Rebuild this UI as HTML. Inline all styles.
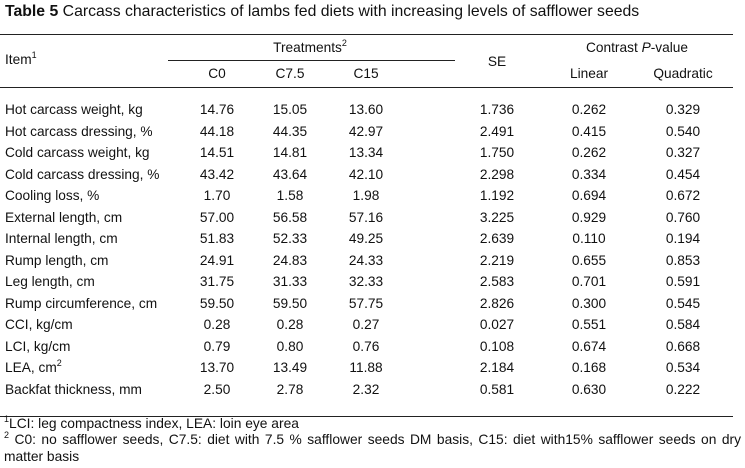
<!DOCTYPE html>
<html><head><meta charset="utf-8"><style>
body{margin:0;width:745px;height:468px;background:#fff;font-family:"Liberation Sans",Arial,sans-serif;color:#111;position:relative;overflow:hidden}
div{position:absolute;white-space:nowrap}
.t{font-size:13.7px;line-height:16px}
.c{transform:translateX(-50%)}
.rule{height:1px;background:#222;left:0;width:733px}
sup{font-size:9px;vertical-align:6px;line-height:0}
</style></head><body>
<div style="left:5px;top:3px;font-size:15.8px;line-height:18px"><b>Table 5</b> Carcass characteristics of lambs fed diets with increasing levels of safflower seeds</div>
<div class="rule" style="top:34px"></div>
<div class="t" style="left:5px;top:52px">Item<sup>1</sup></div>
<div class="t c" style="left:310px;top:40px">Treatments<sup>2</sup></div>
<div style="left:168px;width:287px;top:60px;height:1px;background:#222"></div>
<div class="t c" style="left:497px;top:54px">SE</div>
<div class="t c" style="left:637px;top:40px">Contrast <i>P</i>-value</div>
<div class="t c" style="left:217px;top:66px">C0</div>
<div class="t c" style="left:290px;top:66px">C7.5</div>
<div class="t c" style="left:366px;top:66px">C15</div>
<div class="t c" style="left:589px;top:66px">Linear</div>
<div class="t c" style="left:683px;top:66px">Quadratic</div>
<div class="rule" style="top:87px"></div>
<div id="rows"></div>
<div class="rule" style="top:416px"></div>
<div class="t" style="left:4px;top:416px;font-size:13.8px"><sup>1</sup>LCI: leg compactness index, LEA: loin eye area</div>
<div class="t" style="left:4px;top:432px;font-size:13.8px;white-space:normal;width:737px;line-height:16.5px;text-align:justify"><sup>2</sup> C0: no safflower seeds, C7.5: diet with 7.5 % safflower seeds DM basis, C15: diet with15% safflower seeds on dry matter basis</div>
<script>
const items=["Hot carcass weight, kg","Hot carcass dressing, %","Cold carcass weight, kg","Cold carcass dressing, %","Cooling loss, %","External length, cm","Internal length, cm","Rump length, cm","Leg length, cm","Rump circumference, cm","CCI, kg/cm","LCI, kg/cm","LEA, cm<sup>2</sup>","Backfat thickness, mm"];
const c0=["14.76","44.18","14.51","43.42","1.70","57.00","51.83","24.91","31.75","59.50","0.28","0.79","13.70","2.50"];
const c75=["15.05","44.35","14.81","43.64","1.58","56.58","52.33","24.83","31.33","59.50","0.28","0.80","13.49","2.78"];
const c15=["13.60","42.97","13.34","42.10","1.98","57.16","49.25","24.33","32.33","57.75","0.27","0.76","11.88","2.32"];
const se=["1.736","2.491","1.750","2.298","1.192","3.225","2.639","2.219","2.583","2.826","0.027","0.108","2.184","0.581"];
const lin=["0.262","0.415","0.262","0.334","0.694","0.929","0.110","0.655","0.701","0.300","0.551","0.674","0.168","0.630"];
const quad=["0.329","0.540","0.327","0.454","0.672","0.760","0.194","0.853","0.591","0.545","0.584","0.668","0.534","0.222"];
const root=document.getElementById('rows');
const cols=[[c0,217],[c75,290],[c15,366],[se,497],[lin,589],[quad,683]];
items.forEach((it,i)=>{
 const y=102+i*21.5;
 const d=document.createElement('div');
 d.className='t';d.style.left='5px';d.style.top=y+'px';d.innerHTML=it;
 
 
 root.appendChild(d);
 cols.forEach(([arr,x])=>{
  const e=document.createElement('div');
  e.className='t c';e.style.left=x+'px';e.style.top=y+'px';e.textContent=arr[i];
  
  
  root.appendChild(e);
 });
});
</script>
</body></html>
